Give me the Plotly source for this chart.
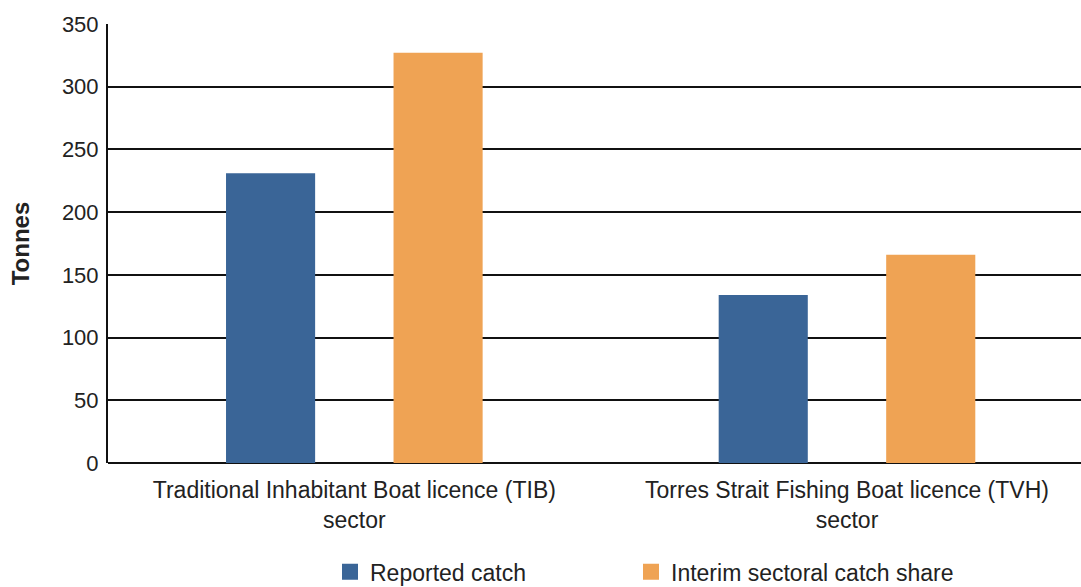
import plotly.graph_objects as go

categories = ["Traditional Inhabitant Boat licence (TIB)<br>sector",
              "Torres Strait Fishing Boat licence (TVH)<br>sector"]
reported_catch = [231, 134]
interim_share = [327, 166]
series_names = ["Reported catch", "Interim sectoral catch share"]
y_ticks = [0, 50, 100, 150, 200, 250, 300, 350]

BLUE = "#3A6597"
ORANGE = "#EFA354"
FONT = "Liberation Sans, Arial, sans-serif"

fig = go.Figure()
fig.add_trace(go.Bar(x=categories, y=reported_catch, name=series_names[0],
                     marker=dict(color=BLUE, line=dict(width=0)), showlegend=False))
fig.add_trace(go.Bar(x=categories, y=interim_share, name=series_names[1],
                     marker=dict(color=ORANGE, line=dict(width=0)), showlegend=False))
# legend entries with larger square symbols, each in its own legend box
for name, col, lg in zip(series_names, [BLUE, ORANGE], ["legend", "legend2"]):
    fig.add_trace(go.Scatter(x=[None], y=[None], mode="markers", name=name, legend=lg,
                             marker=dict(symbol="square", size=18, color=col)))

legend_common = dict(orientation="h", xanchor="left", y=-0.199, yanchor="top",
                     font=dict(size=23, color="#222"), itemsizing="trace",
                     bgcolor="rgba(0,0,0,0)")

fig.update_layout(
    width=1081, height=587,
    margin=dict(l=108, r=0, t=24, b=124, autoexpand=False),
    paper_bgcolor="white", plot_bgcolor="white",
    font=dict(family=FONT, size=22, color="#222"),
    barmode="group", bargap=0.32, bargroupgap=0.468,
    showlegend=True,
    legend=dict(x=(330 - 108) / 973, **legend_common),
    legend2=dict(x=(631 - 108) / 973, **legend_common),
)
fig.update_xaxes(type="category", range=[-0.5, 1.475], showgrid=False,
                 showline=False, ticks="", automargin=False, ticklabelstandoff=11,
                 tickfont=dict(size=23, color="#222"))
fig.update_yaxes(range=[0, 350], tickvals=y_ticks, showgrid=True, gridcolor="#111",
                 gridwidth=2, zeroline=True, zerolinecolor="#111", zerolinewidth=2,
                 showline=True, linecolor="#111", linewidth=2, ticks="",
                 automargin=False, ticklabelstandoff=3,
                 tickfont=dict(size=22, color="#222"),
                 title=dict(text="<b>Tonnes</b>", font=dict(size=24, color="#222"), standoff=25))

fig.write_html("out.html", config={"displayModeBar": False},
               post_script="document.body.style.margin='0';")
